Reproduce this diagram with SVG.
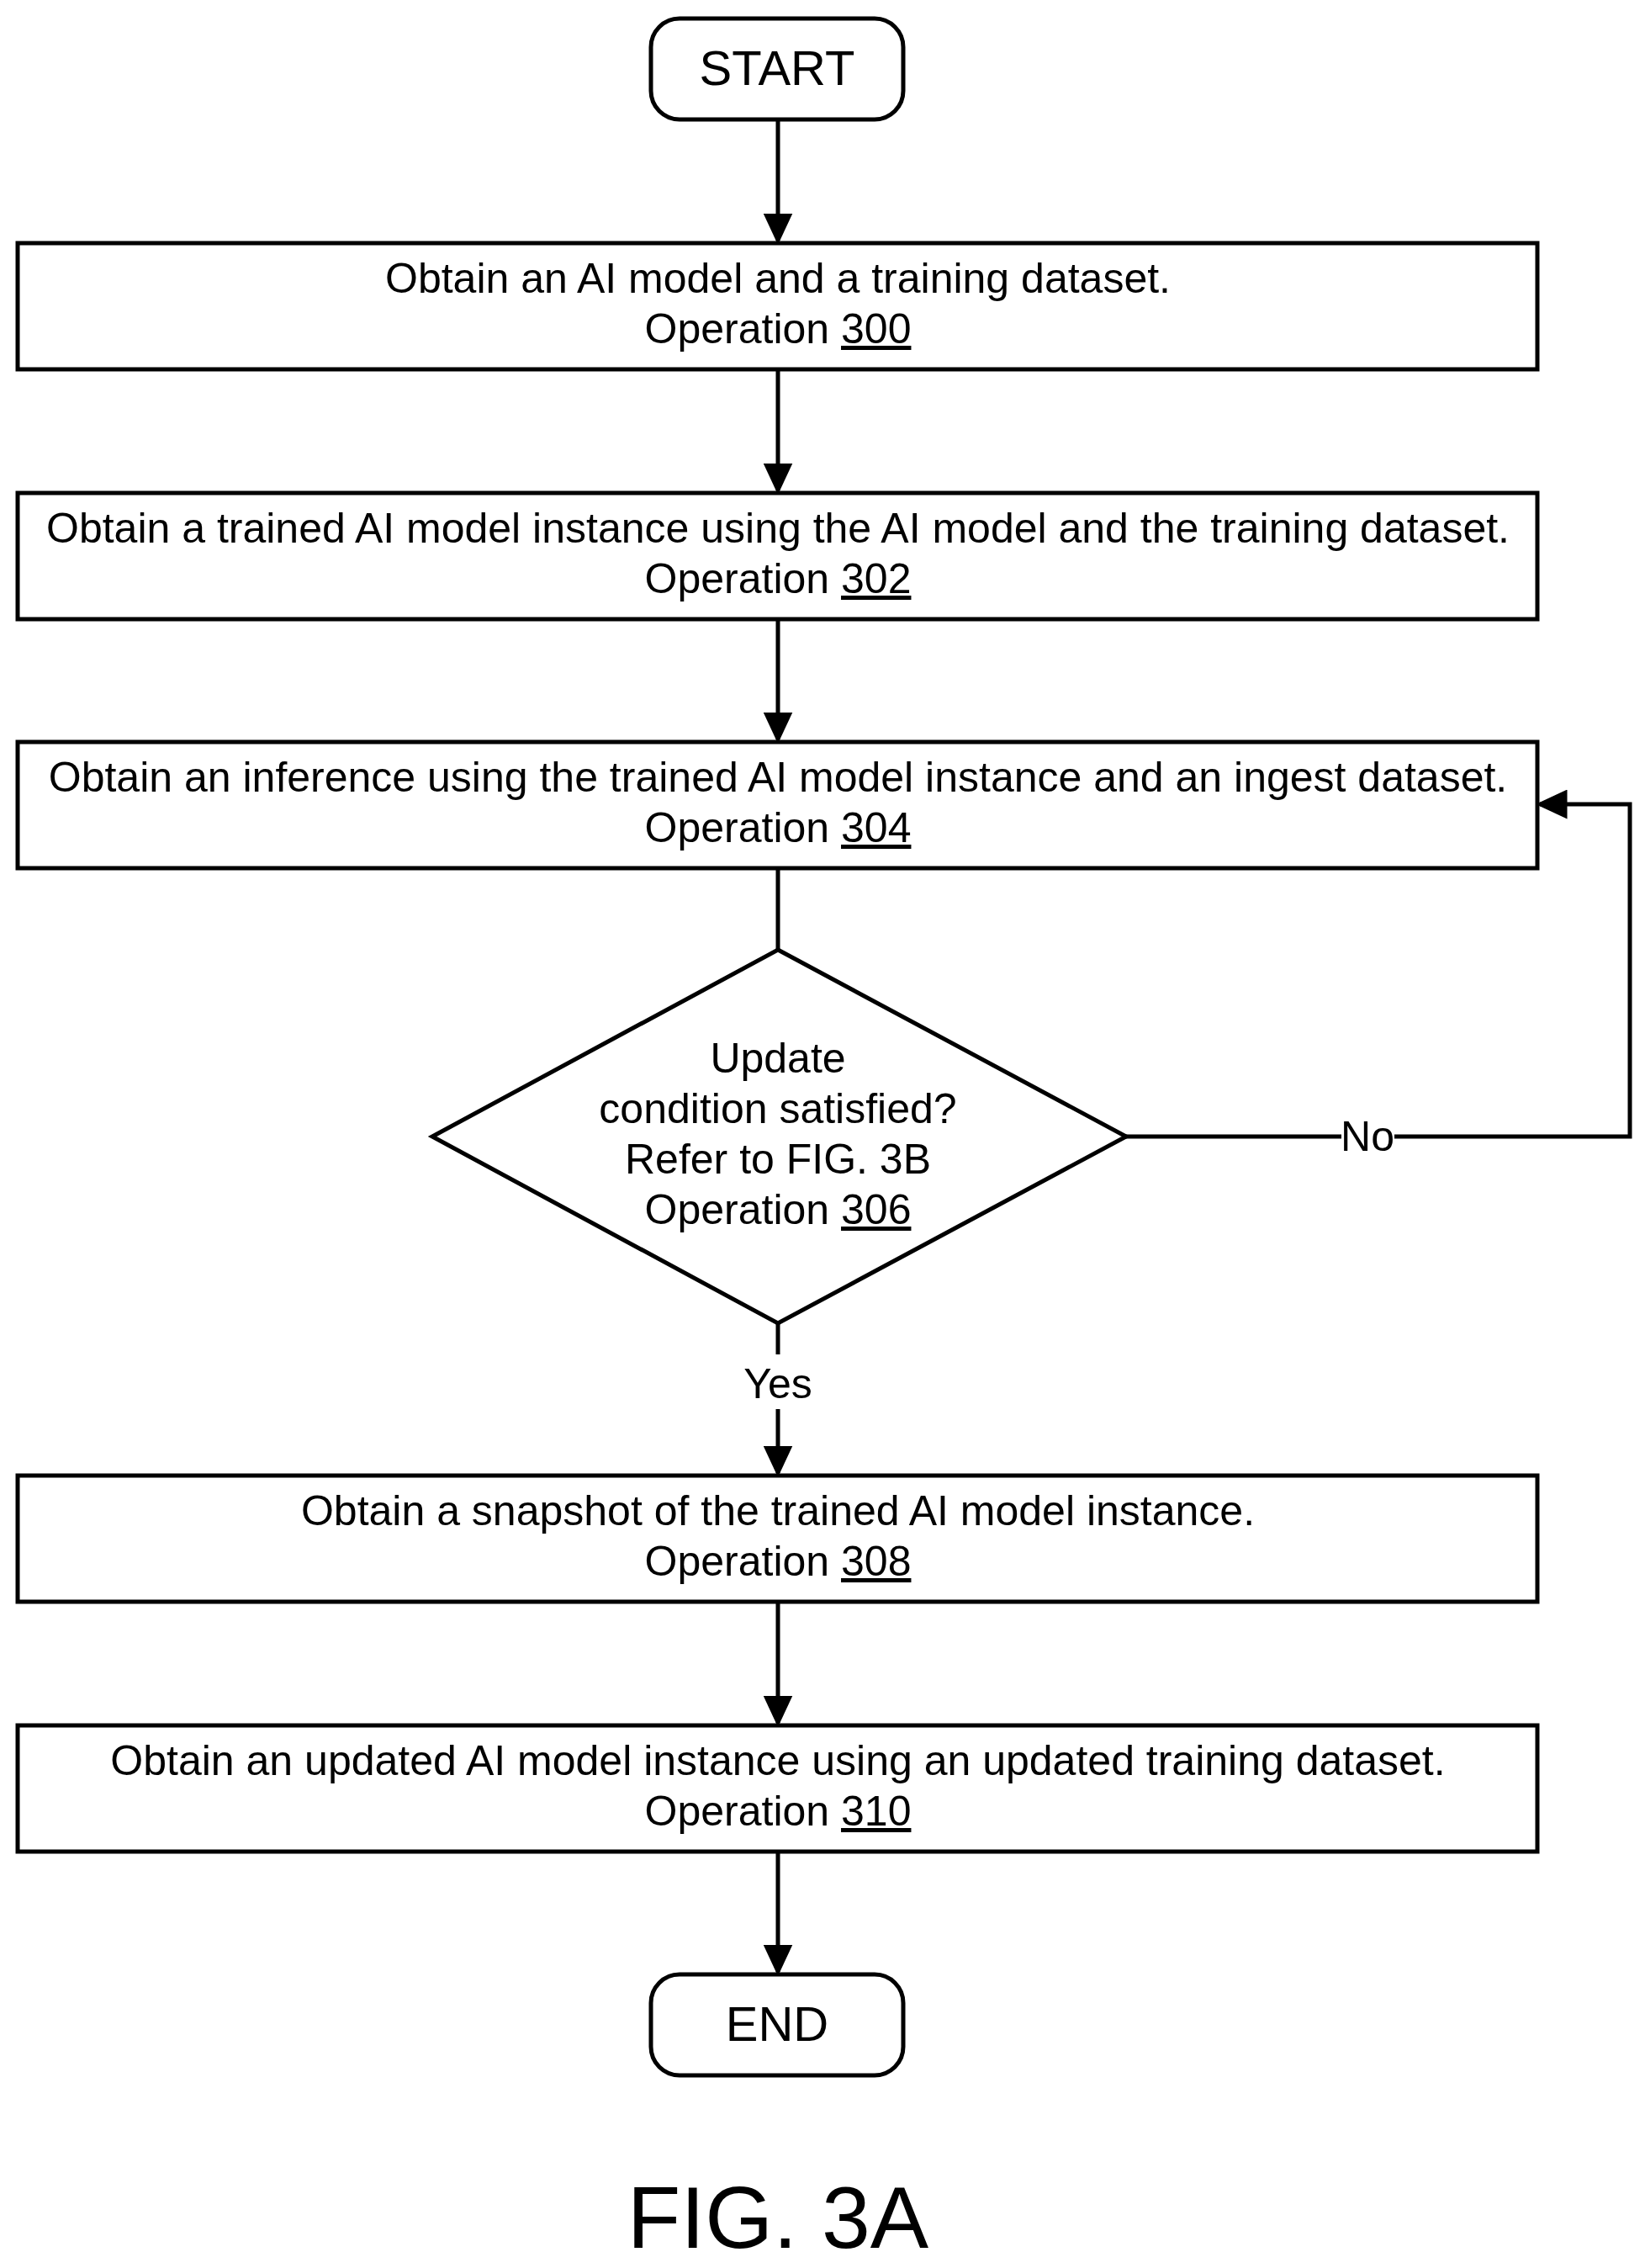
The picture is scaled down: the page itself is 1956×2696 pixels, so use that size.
<svg xmlns="http://www.w3.org/2000/svg" width="1956" height="2696" viewBox="0 0 1956 2696">
<style>
.b{fill:#fff;stroke:#000;stroke-width:5}
.t{font-family:"Liberation Sans",Arial,sans-serif;font-size:50px;text-anchor:middle;fill:#000}
.s{font-size:58px}
.c{fill:none;stroke:#000;stroke-width:5}
</style>
<defs><marker id="a" markerWidth="7.5" markerHeight="7" refX="6.5" refY="3.5" orient="auto" markerUnits="strokeWidth"><path d="M0,0L7.5,3.5L0,7z" fill="#000"/></marker></defs>
<rect width="1956" height="2696" fill="#fff"/>
<g id="connectors">
<line class="c" x1="925" y1="143" x2="925" y2="286" marker-end="url(#a)"/>
<line class="c" x1="925" y1="439" x2="925" y2="583" marker-end="url(#a)"/>
<line class="c" x1="925" y1="736" x2="925" y2="879" marker-end="url(#a)"/>
<line class="c" x1="925" y1="1032" x2="925" y2="1128"/>
<line class="c" x1="925" y1="1573" x2="925" y2="1610"/>
<line class="c" x1="925" y1="1675" x2="925" y2="1751" marker-end="url(#a)"/>
<line class="c" x1="925" y1="1904" x2="925" y2="2048" marker-end="url(#a)"/>
<line class="c" x1="925" y1="2201" x2="925" y2="2344" marker-end="url(#a)"/>
<polyline class="c" points="1339,1351 1595,1351"/>
<polyline class="c" points="1658,1351 1938,1351 1938,956 1831,956" marker-end="url(#a)"/>
<text class="t" x="1626" y="1368">No</text>
<text class="t" x="925" y="1662">Yes</text>
</g>
<g id="start"><rect class="b" x="774" y="22" width="300" height="120" rx="34"/><text class="t s" x="924" y="101">START</text></g>
<g id="op300"><rect class="b" x="21" y="289" width="1807" height="150"/><text class="t" x="925" y="348">Obtain an AI model and a training dataset.</text><text class="t" x="925" y="408">Operation <tspan text-decoration="underline">300</tspan></text></g>
<g id="op302"><rect class="b" x="21" y="586" width="1807" height="150"/><text class="t" x="925" y="645">Obtain a trained AI model instance using the AI model and the training dataset.</text><text class="t" x="925" y="705">Operation <tspan text-decoration="underline">302</tspan></text></g>
<g id="op304"><rect class="b" x="21" y="882" width="1807" height="150"/><text class="t" x="925" y="941">Obtain an inference using the trained AI model instance and an ingest dataset.</text><text class="t" x="925" y="1001">Operation <tspan text-decoration="underline">304</tspan></text></g>
<g id="op306"><polygon class="b" points="925,1129 1339,1351 925,1573 514,1351"/>
<text class="t" x="925" y="1275">Update</text><text class="t" x="925" y="1335">condition satisfied?</text><text class="t" x="925" y="1395">Refer to FIG. 3B</text><text class="t" x="925" y="1455">Operation <tspan text-decoration="underline">306</tspan></text></g>
<g id="op308"><rect class="b" x="21" y="1754" width="1807" height="150"/><text class="t" x="925" y="1813">Obtain a snapshot of the trained AI model instance.</text><text class="t" x="925" y="1873">Operation <tspan text-decoration="underline">308</tspan></text></g>
<g id="op310"><rect class="b" x="21" y="2051" width="1807" height="150"/><text class="t" x="925" y="2110">Obtain an updated AI model instance using an updated training dataset.</text><text class="t" x="925" y="2170">Operation <tspan text-decoration="underline">310</tspan></text></g>
<g id="end"><rect class="b" x="774" y="2347" width="300" height="120" rx="34"/><text class="t s" x="924" y="2426">END</text></g>
<text class="t" x="925" y="2672" style="font-size:104px">FIG. 3A</text>
</svg>
